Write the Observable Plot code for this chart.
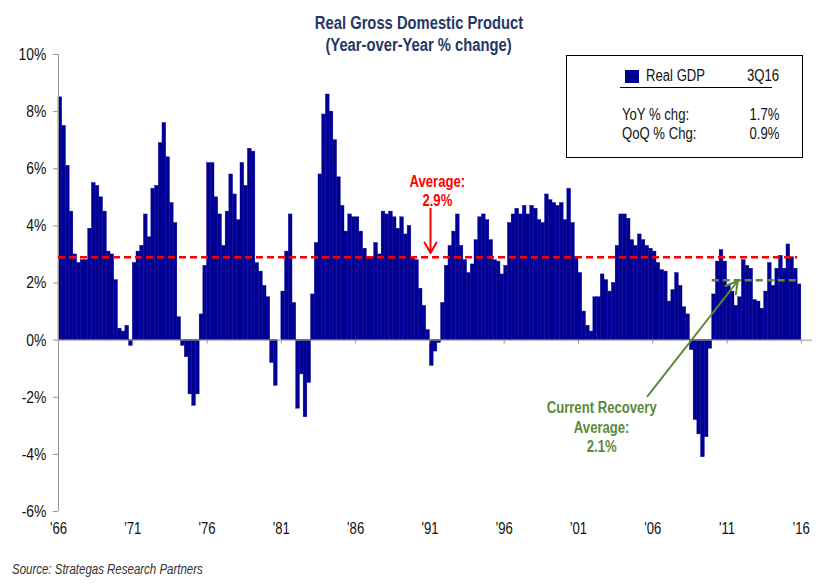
<!DOCTYPE html>
<html>
<head>
<meta charset="utf-8">
<script src="https://cdn.jsdelivr.net/npm/d3@7"></script>
<script src="https://cdn.jsdelivr.net/npm/@observablehq/plot@0.6"></script>
<style>
  body { margin: 0; background: #fff; }
  #wrap { position: relative; width: 830px; height: 585px; overflow: hidden;
          font-family: "Liberation Sans", Arial, sans-serif; }
  .nar { display: inline-block; transform: scaleX(0.82); white-space: nowrap; }
  #title { position: absolute; left: 219px; width: 400px; top: 12px; text-align: center;
           color: #253766; font-weight: bold; font-size: 18px; line-height: 22px; }
  #title .nar { transform-origin: 50% 50%; }
  #legend { position: absolute; left: 566px; top: 55px; width: 237px; height: 103px;
            border: 1.5px solid #000; box-sizing: border-box; background: #fff; font-size: 16px; color: #111; }
  #legend .sw { position: absolute; left: 58px; top: 14px; width: 14px; height: 13px; }
  #legend .t { position: absolute; line-height: 20px; white-space: nowrap; }
  #legend .t .nar { transform-origin: 0 50%; }
  #legend .r { text-align: right; right: 23px; }
  #legend .r .nar { transform-origin: 100% 50%; }
  #legend .ul { position: absolute; left: 53px; top: 31px; width: 152px; height: 1px; background: #000; }
  #source { position: absolute; left: 12px; top: 561px; font-size: 14px; font-style: italic; color: #333; white-space: nowrap; }
  #source .nar { transform-origin: 0 50%; }
  #chart { position: absolute; left: 0; top: 0; }
</style>
</head>
<body>
<div id="wrap">
  <div id="chart"></div>
  <div id="title"></div>
  <div id="legend"></div>
  <div id="source"></div>
</div>
<script>
// ---------------- data ----------------
const titleLines = ["Real Gross Domestic Product", "(Year-over-Year % change)"];
const sourceText = "Source: Strategas Research Partners";
const startYear = 1966;           // first quarter: 1966 Q1
// Real GDP, year-over-year % change, quarterly
const yoyGrowth = [
  8.5, 7.5, 6.1, 4.5,      // 1966
  3.0, 2.7, 2.8, 2.8,      // 1967
  3.9, 5.5, 5.4, 5.0,      // 1968
  4.5, 3.1, 3.0, 2.1,      // 1969
  0.4, 0.3, 0.5, -0.2,     // 1970
  2.7, 3.1, 3.3, 4.4,      // 1971
  3.6, 5.3, 5.4, 6.9,      // 1972
  7.6, 6.4, 4.8, 4.1,      // 1973
  0.8, -0.2, -0.6, -1.9,   // 1974
  -2.3, -1.9, 0.9, 2.6,    // 1975
  6.2, 6.2, 5.0, 4.4,      // 1976
  3.3, 4.5, 5.8, 5.1,      // 1977
  4.2, 6.2, 5.4, 6.7,      // 1978
  6.6, 2.7, 2.4, 1.9,      // 1979
  1.5, -0.8, -1.6, 0.0,    // 1980
  1.7, 3.1, 4.4, 1.3,      // 1981
  -2.4, -1.2, -2.7, -1.5,  // 1982
  1.6, 3.4, 5.8, 7.9,      // 1983
  8.6, 8.0, 7.0, 5.7,      // 1984
  4.7, 3.8, 4.4, 4.3,      // 1985
  4.3, 3.8, 3.2, 2.9,      // 1986
  2.9, 3.4, 3.0, 4.5,      // 1987
  4.4, 4.5, 4.3, 3.9,      // 1988
  4.3, 3.7, 4.0, 2.9,      // 1989
  2.8, 1.8, 1.2, 0.35,     // 1990
  -0.9, -0.4, -0.1, 1.3,   // 1991
  2.6, 3.3, 3.8, 4.4,      // 1992
  3.3, 2.8, 2.35, 2.65,    // 1993
  3.5, 4.3, 4.4, 4.2,      // 1994
  3.5, 2.8, 2.75, 2.3,     // 1995
  2.6, 4.1, 4.4, 4.6,      // 1996
  4.4, 4.7, 4.4, 4.7,      // 1997
  4.6, 4.2, 4.1, 5.1,      // 1998
  4.9, 4.8, 4.7, 4.8,      // 1999
  4.2, 5.3, 4.1, 2.9,      // 2000
  2.35, 1.0, 0.5, 0.3,     // 2001
  1.5, 1.5, 2.3, 2.1,      // 2002
  1.7, 2.0, 3.3, 4.4,      // 2003
  4.4, 4.25, 3.5, 3.3,     // 2004
  3.7, 3.5, 3.3, 3.2,      // 2005
  3.1, 2.7, 2.45, 2.4,     // 2006
  1.35, 1.75, 2.35, 1.9,   // 2007
  1.15, 0.9, -0.35, -2.8,  // 2008
  -3.3, -4.1, -3.4, -0.3,  // 2009
  1.6, 2.75, 3.15, 2.75,   // 2010
  1.9, 1.7, 1.2, 1.5,      // 2011
  2.8, 2.6, 2.5, 1.4,      // 2012
  1.35, 1.1, 1.7, 2.7,     // 2013
  1.9, 2.5, 2.95, 2.5,     // 2014
  3.35, 2.9, 2.5, 1.95     // 2015
];
const yearTicks = [1966, 1971, 1976, 1981, 1986, 1991, 1996, 2001, 2006, 2011, 2016];
const pctTicks = [-6, -4, -2, 0, 2, 4, 6, 8, 10];
const overallAverage = 2.9;
const recoveryAverage = 2.1;
const recoveryStart = 2010;
const legendSeries = "Real GDP";
const legendPeriod = "3Q16";
const legendRows = [["YoY % chg:", "1.7%"], ["QoQ % Chg:", "0.9%"]];

// ---------------- styles ----------------
const FONT = '"Liberation Sans", Arial, sans-serif';
const NAVY = "#000094";
const RED = "#ff0000";
const GREEN = "#5b8a3a";
const AXIS = "#969696";

const quarters = yoyGrowth.map((v, i) => ({t: startYear + i / 4, v}));
const lastT = startYear + yoyGrowth.length / 4 - 0.25;

const chart = Plot.plot({
  width: 830,
  height: 585,
  marginTop: 54,
  marginBottom: 74,
  marginLeft: 58,
  marginRight: 18,
  x: {domain: [1966, 2016.75], label: null},
  y: {domain: [-6, 10], label: null},
  style: {fontFamily: FONT, fontSize: "16px", color: "#111", background: "transparent"},
  marks: [
    Plot.rect(quarters, {x1: "t", x2: d => d.t + 0.25, y1: 0, y2: "v",
      fill: NAVY, stroke: NAVY, strokeWidth: 0.4, inset: 0}),
    Plot.ruleY([0], {stroke: AXIS, strokeWidth: 1}),
    Plot.ruleX(yearTicks, {y1: 0, y2: -0.14, stroke: AXIS}),
    Plot.ruleX([1966], {y1: -6, y2: 10, stroke: AXIS}),
    Plot.axisY({ticks: pctTicks, tickFormat: d => d + "%", tickSize: 5, tickPadding: 7,
      stroke: AXIS, fill: "#111", fontSize: 17, label: null}),
    Plot.axisX({ticks: yearTicks, tickFormat: d => "'" + String(d).slice(2), tickSize: 0,
      tickPadding: 11, fill: "#111", fontSize: 16, label: null}),
    Plot.ruleY([overallAverage], {x1: 1966, x2: lastT, stroke: RED, strokeWidth: 2.5, strokeDasharray: "7,4"}),
    Plot.ruleY([recoveryAverage], {x1: recoveryStart, x2: lastT, stroke: GREEN, strokeWidth: 2.5, strokeDasharray: "7,4"}),
    Plot.text(["Average:", overallAverage + "%"], {
      x: 1991.5, y: (d, i) => [5.55, 4.86][i], text: d => d,
      fill: RED, fontWeight: "bold", fontSize: 16}),
    Plot.arrow([0], {x1: 1991.04, y1: 4.6, x2: 1991.04, y2: 3.05,
      stroke: RED, strokeWidth: 2, headLength: 9}),
    Plot.text(["Current Recovery", "Average:", recoveryAverage + "%"], {
      x: 2002.56, y: (d, i) => [-2.38, -3.06, -3.74][i], text: d => d,
      fill: GREEN, fontWeight: "bold", fontSize: 16}),
    Plot.arrow([0], {x1: 2005.65, y1: -1.96, x2: 2011.72, y2: 2.07,
      stroke: GREEN, strokeWidth: 2, headLength: 10})
  ]
});

// narrow the SVG texts horizontally (Arial Narrow look), around each text's anchor
chart.querySelectorAll("text").forEach(t => {
  const tr = t.getAttribute("transform") || "";
  const xa = t.getAttribute("x");
  let pre = "";
  if (xa !== null && /^-?[\d.]+$/.test(xa.trim())) {
    pre = ` translate(${+xa},0)`;
    t.removeAttribute("x");
  }
  t.setAttribute("transform", `${tr}${pre} scale(0.82,1)`);
});
document.getElementById("chart").appendChild(chart);

const nar = s => `<span class="nar">${s}</span>`;
// title
document.getElementById("title").innerHTML = titleLines.map(s => `<div>${nar(s)}</div>`).join("");
// source
document.getElementById("source").innerHTML = nar(sourceText);
// legend
const lg = document.getElementById("legend");
lg.innerHTML =
  `<div class="sw" style="background:${NAVY}"></div>` +
  `<div class="t" style="left:79px;top:10px">${nar(legendSeries)}</div>` +
  `<div class="t r" style="top:10px">${nar(legendPeriod)}</div>` +
  `<div class="ul"></div>` +
  legendRows.map((r, i) =>
    `<div class="t" style="left:55px;top:${49 + i * 19}px">${nar(r[0])}</div>` +
    `<div class="t r" style="top:${49 + i * 19}px">${nar(r[1])}</div>`).join("");
</script>
</body>
</html>
